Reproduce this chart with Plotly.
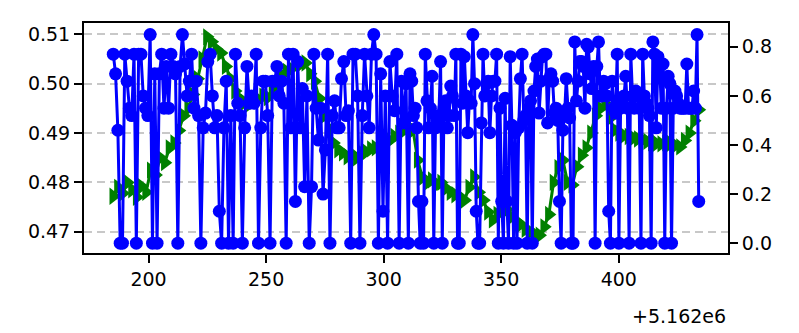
import numpy as np
import plotly.graph_objects as go

# ---- data ----
x_offset = 5.162e6  # shown as "+5.162e6"

# green series (left axis), x from 185 to 434
green_x_start, green_x_end = 185.0, 434.0
green_y = [
    0.4772, 0.4790, 0.4778, 0.4800, 0.4785, 0.4770, 0.4792, 0.4780, 0.4825, 0.4815,
    0.4850, 0.4840, 0.4870, 0.4880, 0.4905, 0.4935, 0.4950, 0.4978, 0.5010, 0.5050,
    0.5095, 0.5085, 0.5070, 0.5062, 0.5035, 0.5010, 0.4985, 0.4970, 0.4962, 0.4958,
    0.4965, 0.4968, 0.4975, 0.4972, 0.4985, 0.5000, 0.5018, 0.5025, 0.5030, 0.5038,
    0.5040, 0.5042, 0.5020, 0.5005, 0.4970, 0.4935, 0.4910, 0.4880, 0.4866, 0.4860,
    0.4852, 0.4855, 0.4850, 0.4860, 0.4862, 0.4868, 0.4870, 0.4875, 0.4880, 0.4885,
    0.4893, 0.4900, 0.4905, 0.4913, 0.4906, 0.4845, 0.4810, 0.4799, 0.4805, 0.4795,
    0.4800, 0.4788, 0.4780, 0.4775, 0.4770, 0.4764, 0.4790, 0.4811, 0.4780, 0.4764,
    0.4740, 0.4724, 0.4735, 0.4750, 0.4745, 0.4730, 0.4722, 0.4715, 0.4705, 0.4700,
    0.4695, 0.4693, 0.4710, 0.4735, 0.4800, 0.4830, 0.4845, 0.4800, 0.4795, 0.4832,
    0.4855, 0.4870, 0.4900, 0.4935, 0.4950, 0.4960, 0.4930, 0.4906, 0.4900, 0.4895,
    0.4893, 0.4890, 0.4888, 0.4886, 0.4883, 0.4880, 0.4879, 0.4878, 0.4880, 0.4879,
    0.4875, 0.4872, 0.4885, 0.4900, 0.4925, 0.4947,
]

# blue series (right axis), first part x 185 -> 310.5
blue_a_start, blue_a_end = 185.0, 310.5
blue_a = [
    0.77, 0.69, 0.46, 0.0, 0.0, 0.77, 0.66, 0.55, 0.52, 0.77,
    0.0, 0.77, 0.77, 0.60, 0.55, 0.52, 0.85, 0.0, 0.69, 0.0,
    0.69, 0.77, 0.55, 0.72, 0.55, 0.77, 0.72, 0.69, 0.0, 0.72,
    0.85, 0.73, 0.60, 0.66, 0.77, 0.55, 0.66, 0.52, 0.0, 0.47,
    0.53, 0.74, 0.77, 0.60, 0.47, 0.52, 0.13, 0.0, 0.47, 0.66,
    0.0, 0.52, 0.0, 0.77, 0.57, 0.52, 0.0, 0.47, 0.72, 0.57,
    0.60, 0.57, 0.77, 0.0, 0.47, 0.66, 0.66, 0.52, 0.0, 0.66,
    0.66, 0.72, 0.60, 0.66, 0.57, 0.0, 0.77, 0.47, 0.77, 0.17,
    0.74, 0.47, 0.63, 0.23, 0.60, 0.0, 0.23, 0.77, 0.55, 0.42,
    0.55, 0.20, 0.38, 0.77, 0.0, 0.52, 0.58, 0.47, 0.47, 0.67,
    0.74, 0.52, 0.54, 0.0, 0.77, 0.77, 0.60, 0.0, 0.52, 0.77,
    0.60, 0.47, 0.77, 0.85, 0.77, 0.0, 0.69, 0.13, 0.60, 0.0,
    0.74, 0.60, 0.54, 0.77, 0.0, 0.66, 0.49, 0.65, 0.0,
]
# second part x 311.2 -> 434
blue_b_start, blue_b_end = 311.2, 434.0
blue_b = [
    0.69, 0.66, 0.52, 0.55, 0.47, 0.17, 0.0, 0.17, 0.0, 0.77,
    0.58, 0.47, 0.55, 0.68, 0.0, 0.47, 0.50, 0.52, 0.74, 0.0,
    0.55, 0.58, 0.47, 0.52, 0.64, 0.60, 0.52, 0.77, 0.0, 0.0,
    0.77, 0.57, 0.76, 0.60, 0.45, 0.58, 0.57, 0.85, 0.65, 0.13,
    0.0, 0.0, 0.49, 0.77, 0.60, 0.65, 0.66, 0.45, 0.60, 0.66,
    0.66, 0.77, 0.0, 0.55, 0.17, 0.0, 0.59, 0.17, 0.0, 0.76,
    0.48, 0.0, 0.45, 0.0, 0.47, 0.67, 0.77, 0.50, 0.52, 0.0,
    0.55, 0.58, 0.0, 0.62, 0.72, 0.75, 0.53, 0.66, 0.76, 0.77,
    0.77, 0.49, 0.67, 0.69, 0.66, 0.53, 0.55, 0.50, 0.17, 0.0,
    0.46, 0.52, 0.67, 0.55, 0.51, 0.0, 0.0, 0.82, 0.58, 0.66,
    0.74, 0.74, 0.72, 0.55, 0.81, 0.80, 0.69, 0.63, 0.72, 0.0,
    0.72, 0.82, 0.60, 0.60, 0.66, 0.65, 0.60, 0.13, 0.0, 0.66,
    0.55, 0.53, 0.77, 0.0, 0.55, 0.58, 0.60, 0.68, 0.55, 0.0,
    0.77, 0.60, 0.55, 0.62, 0.60, 0.55, 0.0, 0.77, 0.60, 0.57,
    0.55, 0.52, 0.0, 0.82, 0.77, 0.47, 0.76, 0.72, 0.55, 0.73,
    0.0, 0.55, 0.68, 0.65, 0.0, 0.55, 0.62, 0.60, 0.57, 0.55,
    0.55, 0.55, 0.55, 0.73, 0.55, 0.55, 0.55, 0.62, 0.55, 0.85, 0.17,
]

x_ticks = [200, 250, 300, 350, 400]
left_ticks = [0.47, 0.48, 0.49, 0.50, 0.51]
right_ticks = [0.0, 0.2, 0.4, 0.6, 0.8]

# ---- build ----
green_x = np.linspace(green_x_start, green_x_end, len(green_y))
blue_x = np.concatenate([
    np.linspace(blue_a_start, blue_a_end, len(blue_a)),
    np.linspace(blue_b_start, blue_b_end, len(blue_b)),
])
blue_y = blue_a + blue_b

FONT = "DejaVu Sans"
fig = go.Figure()
fig.add_trace(go.Scatter(
    x=green_x, y=green_y, mode="lines+markers", yaxis="y",
    line=dict(color="#008000", width=3),
    marker=dict(symbol="triangle-right", size=15, color="#008000"),
    showlegend=False,
))
fig.add_trace(go.Scatter(
    x=blue_x, y=blue_y, mode="lines+markers", yaxis="y2",
    line=dict(color="#0000ff", width=3),
    marker=dict(symbol="circle", size=13, color="#0000ff"),
    showlegend=False,
))

axis_common = dict(
    showline=True, linecolor="black", linewidth=2,
    ticks="outside", ticklen=8, tickwidth=2, tickcolor="black",
    tickfont=dict(family=FONT, size=19, color="black"),
    zeroline=False,
)

fig.update_layout(
    width=799, height=333,
    margin=dict(l=84, r=71, t=23, b=80),
    paper_bgcolor="white", plot_bgcolor="white",
    xaxis=dict(
        range=[172.55, 446.45], tickvals=x_ticks, ticktext=[str(v) for v in x_ticks],
        mirror=True, showgrid=False, **axis_common,
    ),
    yaxis=dict(
        range=[0.4657, 0.5123], tickvals=left_ticks,
        ticktext=[f"{v:.2f}" for v in left_ticks],
        mirror=True, showgrid=True, gridcolor="#c8c8c8", gridwidth=1.5,
        griddash="8px,5px", **axis_common,
    ),
    yaxis2=dict(
        range=[-0.04, 0.897], tickvals=right_ticks,
        ticktext=[f"{v:.1f}" for v in right_ticks],
        overlaying="y", side="right", showgrid=False, **axis_common,
    ),
    annotations=[dict(
        text="+5.162e6", xref="paper", yref="paper", x=1.0, y=-0.275,
        xanchor="right", yanchor="middle", showarrow=False,
        font=dict(family=FONT, size=19, color="black"),
    )],
)

fig.write_html("out.html")
